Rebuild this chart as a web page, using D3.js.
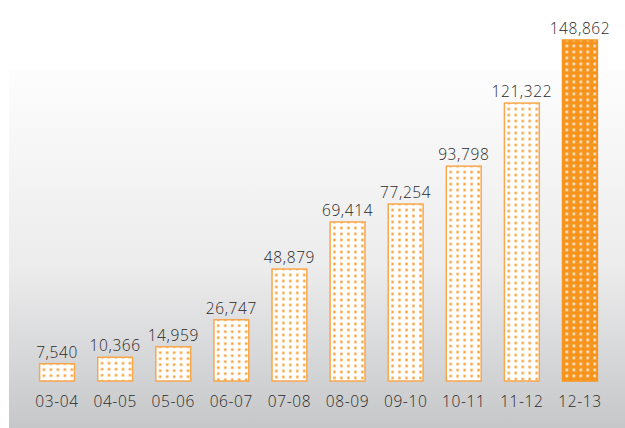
<!DOCTYPE html>
<html>
<head>
<meta charset="utf-8">
<script src="https://cdn.jsdelivr.net/npm/d3@7"></script>
<style>
  body { margin: 0; background: #fff; }
  svg { display: block; }
</style>
</head>
<body>
<div id="chart"></div>
<script>
var years = ["03-04", "04-05", "05-06", "06-07", "07-08", "08-09", "09-10", "10-11", "11-12", "12-13"];
var values = [7540, 10366, 14959, 26747, 48879, 69414, 77254, 93798, 121322, 148862];

var width = 625, height = 428;
var orange = "#f7941d";

var svg = d3.select("#chart").append("svg")
    .attr("width", width)
    .attr("height", height);

var defs = svg.append("defs");

var grad = defs.append("linearGradient")
    .attr("id", "bg")
    .attr("x1", 0).attr("y1", 0).attr("x2", 0).attr("y2", 1);
grad.append("stop").attr("offset", "0%").attr("stop-color", "#fdfdfd");
grad.append("stop").attr("offset", "55%").attr("stop-color", "#ececed");
grad.append("stop").attr("offset", "100%").attr("stop-color", "#c6c7c9");

svg.append("rect")
    .attr("x", 9).attr("y", 70)
    .attr("width", width - 9).attr("height", height - 70)
    .attr("fill", "url(#bg)");

var x = d3.scaleBand()
    .domain(years)
    .range([28, 609])
    .paddingInner(0.4)
    .paddingOuter(0.2);

var y = d3.scaleLinear()
    .domain([0, d3.max(values)])
    .range([381, 40]);

var data = years.map(function(d, i) { return { year: d, value: values[i], last: i === years.length - 1 }; });

// one dot pattern per bar so the dots line up with each bar
data.forEach(function(d, i) {
    var p = defs.append("pattern")
        .attr("id", "dots" + i)
        .attr("patternUnits", "userSpaceOnUse")
        .attr("x", x(d.year) + 0.9)
        .attr("y", y(d.value) + 2.5)
        .attr("width", x.bandwidth() / 5)
        .attr("height", 6);
    p.append("rect")
        .attr("x", 0).attr("y", 0)
        .attr("width", x.bandwidth() / 5).attr("height", 6)
        .attr("fill", d.last ? orange : "#fff");
    p.append("rect")
        .attr("x", 2.3).attr("y", 2.3)
        .attr("width", 2.3).attr("height", 2.3)
        .attr("fill", d.last ? "#fff" : orange);
});

var bar = svg.selectAll(".bar")
    .data(data)
    .enter().append("g")
    .attr("class", "bar");

bar.append("rect")
    .attr("x", function(d) { return x(d.year); })
    .attr("y", function(d) { return y(d.value); })
    .attr("width", x.bandwidth())
    .attr("height", function(d) { return y(0) - y(d.value); })
    .attr("fill", function(d, i) { return "url(#dots" + i + ")"; })
    .attr("stroke", function(d) { return d.last ? orange : "#f9a74c"; })
    .attr("stroke-width", 1.5);

bar.append("text")
    .attr("x", function(d) { return x(d.year) + x.bandwidth() / 2; })
    .attr("y", function(d) { return y(d.value) - 6; })
    .attr("text-anchor", "middle")
    .attr("font-family", "'Open Sans', sans-serif")
    .attr("font-weight", 300)
    .attr("font-size", 15.5)
    .attr("letter-spacing", 0.6)
    .attr("fill", "#2a2a2a")
    .text(function(d) { return d3.format(",")(d.value); });

svg.append("g")
    .selectAll("text")
    .data(years)
    .enter().append("text")
    .attr("x", function(d) { return x(d) + x.bandwidth() / 2; })
    .attr("y", 407)
    .attr("text-anchor", "middle")
    .attr("font-family", "'Open Sans', sans-serif")
    .attr("font-weight", 300)
    .attr("font-size", 15.5)
    .attr("letter-spacing", 0.6)
    .attr("fill", "#2a2a2a")
    .text(function(d) { return d; });
</script>
</body>
</html>
